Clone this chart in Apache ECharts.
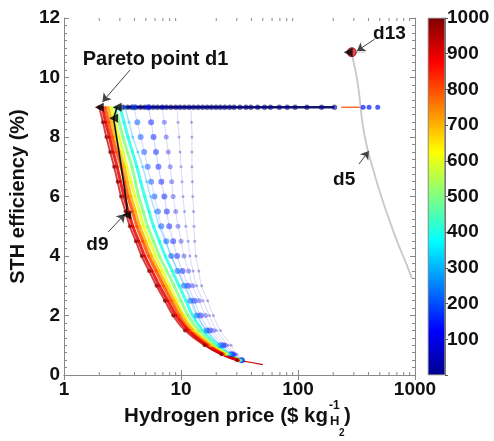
<!DOCTYPE html>
<html><head><meta charset="utf-8">
<script src="https://cdn.jsdelivr.net/npm/echarts@6/dist/echarts.min.js"></script>
<style>html,body{margin:0;padding:0;background:#fff;}#c{width:494px;height:441px;}</style>
</head><body><div id="c"></div>
<script>
// ---------------- data ----------------
const levels = [9, 8.5, 8, 7.5, 7, 6.5, 6, 5.5, 5, 4.5, 4, 3.5, 3, 2.5, 2, 1.5, 1, 0.7, 0.5];
const curve1000 = [2.0, 2.15, 2.3, 2.48, 2.68, 2.87, 3.07, 3.35, 3.65, 4.11, 4.61, 5.33, 6.17, 7.27, 8.57, 10.8, 15.9, 22.1, 30.1];
const curve900 = [2.13, 2.27, 2.44, 2.63, 2.84, 3.04, 3.26, 3.55, 3.87, 4.35, 4.89, 5.65, 6.53, 7.70, 9.08, 11.5, 16.5, 22.5, 30.7];
const curve800 = [2.25, 2.41, 2.58, 2.81, 3.07, 3.29, 3.52, 3.84, 4.19, 4.70, 5.28, 6.11, 7.06, 8.24, 9.62, 11.9, 17.2, 23.0, 30.7];
const curve700 = [2.39, 2.56, 2.73, 2.98, 3.26, 3.48, 3.73, 4.07, 4.44, 4.98, 5.60, 6.47, 7.48, 8.73, 10.2, 12.6, 17.9, 23.4, 31.3];
const curve600 = [2.53, 2.73, 2.95, 3.19, 3.45, 3.73, 4.03, 4.40, 4.79, 5.38, 6.05, 6.92, 7.93, 9.16, 10.6, 13.1, 18.2, 24.4, 31.3];
const curve500 = [2.73, 2.95, 3.19, 3.48, 3.80, 4.07, 4.35, 4.75, 5.18, 5.82, 6.53, 7.56, 8.73, 10.0, 11.5, 14.2, 19.3, 24.8, 31.9];
const curve400 = [3.01, 3.26, 3.52, 3.84, 4.19, 4.52, 4.89, 5.33, 5.82, 6.53, 7.34, 8.40, 9.62, 11.0, 12.6, 15.3, 20.5, 25.8, 32.6];
const curve300 = [3.32, 3.59, 3.87, 4.27, 4.70, 5.08, 5.49, 5.99, 6.53, 7.34, 8.24, 9.43, 10.8, 12.3, 13.9, 16.5, 21.7, 26.8, 33.2];
const curve200 = [3.95, 4.23, 4.52, 4.84, 5.18, 5.55, 5.93, 6.35, 6.79, 7.48, 8.24, 9.34, 10.6, 12.0, 13.6, 16.5, 21.7, 26.8, 32.6];
const curve150 = [5.28, 5.55, 5.82, 6.11, 6.41, 6.79, 7.20, 7.56, 7.93, 8.57, 9.25, 10.3, 11.5, 13.0, 14.7, 17.5, 23.0, 27.4, 33.2];
const curve100 = [6.92, 7.20, 7.48, 7.78, 8.08, 8.32, 8.57, 9.0, 9.43, 10.0, 10.6, 11.6, 12.6, 14.3, 16.2, 18.9, 23.9, 28.4, 33.2];
const curve60 = [9.25, 9.43, 9.62, 9.81, 10.0, 10.2, 10.4, 10.7, 11.0, 11.5, 11.9, 12.7, 13.6, 15.4, 17.5, 20.1, 25.3, 29.0, 33.8];
const curve30 = [12.1, 12.3, 12.4, 12.4, 12.4, 12.5, 12.6, 12.8, 12.9, 13.1, 13.4, 14.2, 15.0, 16.9, 18.9, 21.7, 26.8, 30.1, 33.8];
const curveValues = [30, 60, 100, 150, 200, 300, 400, 500, 600, 700, 800, 900, 1000];
const curvePrices = [curve30, curve60, curve100, curve150, curve200, curve300, curve400, curve500, curve600, curve700, curve800, curve900, curve1000];

const redTailX = [30.1, 40, 50];
const redTailY = [0.5, 0.42, 0.35];

const topRowX = [3.2, 3.5, 3.8, 4.1, 4.5, 4.9, 5.3, 5.8, 6.3, 6.9, 7.5, 8.2, 9.0, 9.8, 10.7, 11.7, 12.8, 14.0, 15.3, 16.7, 18.2, 19.9, 21.7, 23.7, 26.0, 28.4, 31.9, 35.9, 39.5, 45.2, 51.8, 58.2, 69.2, 80.9, 94.4, 119, 159, 205];
const topRowY = 9;
const topRowValue = 20;
const topOrangeX = [234, 345];
const topOrangeValue = 800;
const topEndX = [360, 405, 480];
const topEndValue = 150;

const d5X = [288, 324, 368, 447, 525, 580, 702, 850, 940];
const d5Y = [10.8, 9.8, 8.1, 6.8, 5.9, 5.4, 4.5, 3.7, 3.25];
const d13X = 288, d13Y = 10.85;
const d13TailX = [288, 380];

const d9LineX = [2.84, 2.65, 2.95, 3.25, 3.45, 3.43];
const d9LineY = [9, 8.63, 7.5, 6.4, 5.7, 5.38];
const markerX = [2.0, 2.84, 2.65, 3.43, 268];
const markerY = [9, 9, 8.63, 5.38, 10.85];

const annoText = ['Pareto point d1', 'd13', 'd5', 'd9'];
const annoX = [6.05, 605, 248, 1.93];
const annoY = [10.59, 11.46, 6.55, 4.37];
const arrowFromX = [3.66, 452, 332, 2.39];
const arrowFromY = [10.25, 11.29, 7.09, 4.81];
const arrowToX = [2.13, 319, 403, 3.32];
const arrowToY = [9.18, 10.89, 7.53, 5.41];

const minorTicksX = [2,3,4,5,6,7,8,9,20,30,40,50,60,70,80,90,200,300,400,500,600,700,800,900];
const colorbarMin = 0, colorbarMax = 1000;

// ---------------- styles ----------------
const FONT = '"Liberation Sans", Arial, Helvetica, sans-serif';
const jetStops = ['#00008f','#0000ff','#0080ff','#00ffff','#80ff80','#ffff00','#ff8000','#ff0000','#800000'];
function hex(c){return [parseInt(c.substr(1,2),16),parseInt(c.substr(3,2),16),parseInt(c.substr(5,2),16)];}
function jet(p){
  const t = Math.max(0, Math.min(1, (p - colorbarMin)/(colorbarMax - colorbarMin))) * (jetStops.length - 1);
  const i = Math.min(Math.floor(t), jetStops.length - 2), f = t - i;
  const a = hex(jetStops[i]), b = hex(jetStops[i+1]);
  return 'rgb(' + a.map((v,k)=>Math.round(v + (b[k]-v)*f)).join(',') + ')';
}
function curveStyle(p){
  if (p >= 1000) return {size: 4, op: 0.7, lw: 2, lo: 0.75, lc: 930};
  if (p >= 900) return {size: 3, op: 0.8, lw: 3, lo: 0.85};
  if (p >= 700) return {size: 3, op: 0.8, lw: 3, lo: 0.85};
  if (p >= 400) return {size: 3, op: 0.75, lw: 3, lo: 0.8};
  if (p >= 300) return {size: 3, op: 0.45, lw: 1.5, lo: 0.35};
  if (p >= 150) return {size: 6, op: 0.5, lw: 1, lo: 0.2};
  if (p >= 100) return {size: 5, op: 0.35, lw: 1, lo: 0.15};
  return {size: 3, op: 0.3, lw: 1, lo: 0.15};
}

const series = [];
const mappedIdx = [];

// horizontal row at 9 %
series.push({type:'line', data: topRowX.map(x=>[x, topRowY]), showSymbol:false, silent:true,
  lineStyle:{color:'#15156e', width:2.5}, z:2});
series.push({type:'line', data: topOrangeX.map(x=>[x, topRowY]), showSymbol:false, silent:true,
  lineStyle:{color: jet(topOrangeValue), width:1.5, opacity:0.8}, z:2});
mappedIdx.push(series.length);
series.push({type:'scatter', data: topRowX.map(x=>[x, topRowY, topRowValue]), symbolSize:5,
  itemStyle:{opacity:0.6, borderColor:'#222', borderWidth:0.5}, z:3});
mappedIdx.push(series.length);
series.push({type:'scatter', data: topEndX.map(x=>[x, topRowY, topEndValue]), symbolSize:5,
  itemStyle:{opacity:0.7}, z:3});

curveValues.forEach((p, ci) => {
  const xs = curvePrices[ci];
  const st = curveStyle(p);
  series.push({type:'line', data: xs.map((x,i)=>[x, levels[i]]), smooth:true, showSymbol:false, silent:true,
    lineStyle:{color: jet(st.lc || p), width: st.lw, opacity: st.lo}, z:2});
  mappedIdx.push(series.length);
  series.push({type:'scatter', data: xs.map((x,i)=>[x, levels[i], p]), symbolSize: st.size,
    itemStyle:{opacity: st.op}, z:3});
});
series.push({type:'line', data: redTailX.map((x,i)=>[x, redTailY[i]]), showSymbol:false, silent:true,
  lineStyle:{color: jet(930), width:1.2}, z:3});

// d5 curve + d13
series.push({type:'line', data: d5X.map((x,i)=>[x, d5Y[i]]), smooth:true, showSymbol:false, silent:true,
  lineStyle:{color:'#c8c8c8', width:1.8}, z:2});
series.push({type:'line', data: d13TailX.map(x=>[x, d13Y]), showSymbol:false, silent:true,
  lineStyle:{color:'#d0d0d0', width:1.2}, z:2});
series.push({type:'scatter', data: [[d13X, d13Y]], symbolSize:9, itemStyle:{color:'#e0202a', borderColor:'#8a0000', borderWidth:1}, z:4});

// d9 line + markers
series.push({type:'line', data: d9LineX.map((x,i)=>[x, d9LineY[i]]), showSymbol:false, silent:true,
  lineStyle:{color:'#111', width:1.6}, z:4});
series.push({type:'scatter', data: markerX.map((x,i)=>[x, markerY[i]]), symbol:'triangle', symbolRotate:90,
  symbolSize:9, itemStyle:{color:'#000'}, z:5});

// minor log ticks
series.push({type:'custom', silent:true, z:6, data: minorTicksX.map(v=>[v, 0]),
  renderItem(params, api){
    const b = api.coord([api.value(0), 0]);
    const t = api.coord([api.value(0), 12]);
    return {type:'group', children:[
      {type:'line', shape:{x1:b[0], y1:b[1], x2:b[0], y2:b[1]-3}, style:{stroke:'#888', lineWidth:1}},
      {type:'line', shape:{x1:t[0], y1:t[1], x2:t[0], y2:t[1]+3}, style:{stroke:'#888', lineWidth:1}}
    ]};
  }});

// annotation arrows
series.push({type:'line', silent:true, z:7, data: [], showSymbol:false,
  markLine:{silent:true, symbol:['none','arrow'], symbolSize:8, animation:false,
    lineStyle:{color:'#444', width:1, type:'solid'}, label:{show:false}, emphasis:{disabled:true},
    data: arrowFromX.map((x,i)=>[{coord:[x, arrowFromY[i]]},{coord:[arrowToX[i], arrowToY[i]]}])}
});

// colour bar
series.push({type:'bar', xAxisIndex:2, yAxisIndex:2, data:[colorbarMax], barWidth:'100%', silent:true,
  itemStyle:{color: new echarts.graphic.LinearGradient(0,1,0,0, jetStops.map((c,i)=>({offset:i/(jetStops.length-1), color:c}))),
    borderColor:'#777', borderWidth:0.5}});

const axisLineStyle = {color:'#888', width:1};
const tickLabel = {fontSize:19, fontWeight:'bold', color:'#111', fontFamily:FONT};

const option = {
  animation:false,
  backgroundColor:'#fff',
  grid:[{left:58, top:18, width:357, height:357}, {left:428, top:18, width:17, height:357}],
  xAxis:[
    {type:'log', logBase:10, min:1, max:1000, gridIndex:0, position:'bottom',
      axisLine:{show:true, lineStyle:axisLineStyle}, axisTick:{show:true, inside:true, length:5, lineStyle:axisLineStyle},
      splitLine:{show:false}, axisLabel:{...tickLabel, margin:5, formatter:v=>String(Math.round(v))}},
    {type:'log', logBase:10, min:1, max:1000, gridIndex:0, position:'top',
      axisLine:{show:true, lineStyle:axisLineStyle}, axisTick:{show:true, inside:true, length:5, lineStyle:axisLineStyle},
      splitLine:{show:false}, axisLabel:{show:false}},
    {type:'category', gridIndex:1, data:['c'], show:false}
  ],
  yAxis:[
    {type:'value', min:0, max:12, interval:2, gridIndex:0, position:'left',
      name:'STH efficiency (%)', nameLocation:'middle', nameGap:34,
      nameTextStyle:{fontSize:20, fontWeight:'bold', color:'#111', fontFamily:FONT},
      axisLine:{show:true, lineStyle:axisLineStyle}, axisTick:{show:true, inside:true, length:5, lineStyle:axisLineStyle},
      minorTick:{show:true, splitNumber:8, length:3, lineStyle:axisLineStyle},
      splitLine:{show:false}, axisLabel:{...tickLabel, margin:4}},
    {type:'value', min:0, max:12, interval:2, gridIndex:0, position:'right',
      axisLine:{show:true, lineStyle:axisLineStyle}, axisTick:{show:true, inside:true, length:5, lineStyle:axisLineStyle},
      minorTick:{show:true, splitNumber:8, length:3, lineStyle:axisLineStyle},
      splitLine:{show:false}, axisLabel:{show:false}},
    {type:'value', min:colorbarMin, max:colorbarMax, interval:100, gridIndex:1, position:'right',
      axisLine:{show:true, lineStyle:{color:'#777'}}, axisTick:{show:true, inside:false, length:3, lineStyle:{color:'#555'}},
      splitLine:{show:false}, axisLabel:{...tickLabel, margin:2, formatter:v=> v===0 ? '' : String(v)}}
  ],
  visualMap:[{type:'continuous', show:false, min:colorbarMin, max:colorbarMax, dimension:2,
    seriesIndex: mappedIdx, inRange:{color: jetStops}}],
  graphic:[
    {id:'xt0', type:'text', x:328, y:416, style:{text:'Hydrogen price ($ kg', font:'bold 20.5px '+FONT, fill:'#111', align:'right', verticalAlign:'middle'}},
    {id:'xt1', type:'text', x:329, y:406, style:{text:'-1', font:'bold 12px '+FONT, fill:'#111', align:'left', verticalAlign:'middle'}},
    {id:'xt2', type:'text', x:330, y:421, style:{text:'H', font:'bold 13px '+FONT, fill:'#111', align:'left', verticalAlign:'middle'}},
    {id:'xt3', type:'text', x:339, y:433, style:{text:'2', font:'bold 10px '+FONT, fill:'#111', align:'left', verticalAlign:'middle'}},
    {id:'xt4', type:'text', x:344, y:416, style:{text:')', font:'bold 20.5px '+FONT, fill:'#111', align:'left', verticalAlign:'middle'}}
  ],
  series: series
};
const chart = echarts.init(document.getElementById('c'), null, {renderer:'canvas'});
chart.setOption(option);
// annotation texts placed at data coordinates
const annoGraphics = annoText.map((t, i) => {
  const pt = chart.convertToPixel({gridIndex:0}, [annoX[i], annoY[i]]);
  return {id:'anno'+i, type:'text', x:pt[0], y:pt[1], z:100,
    style:{text:t, font:'bold '+(i===0?20:19)+'px '+FONT, fill:'#111', align:'center', verticalAlign:'middle'}};
});
chart.setOption({graphic: annoGraphics});
</script></body></html>
